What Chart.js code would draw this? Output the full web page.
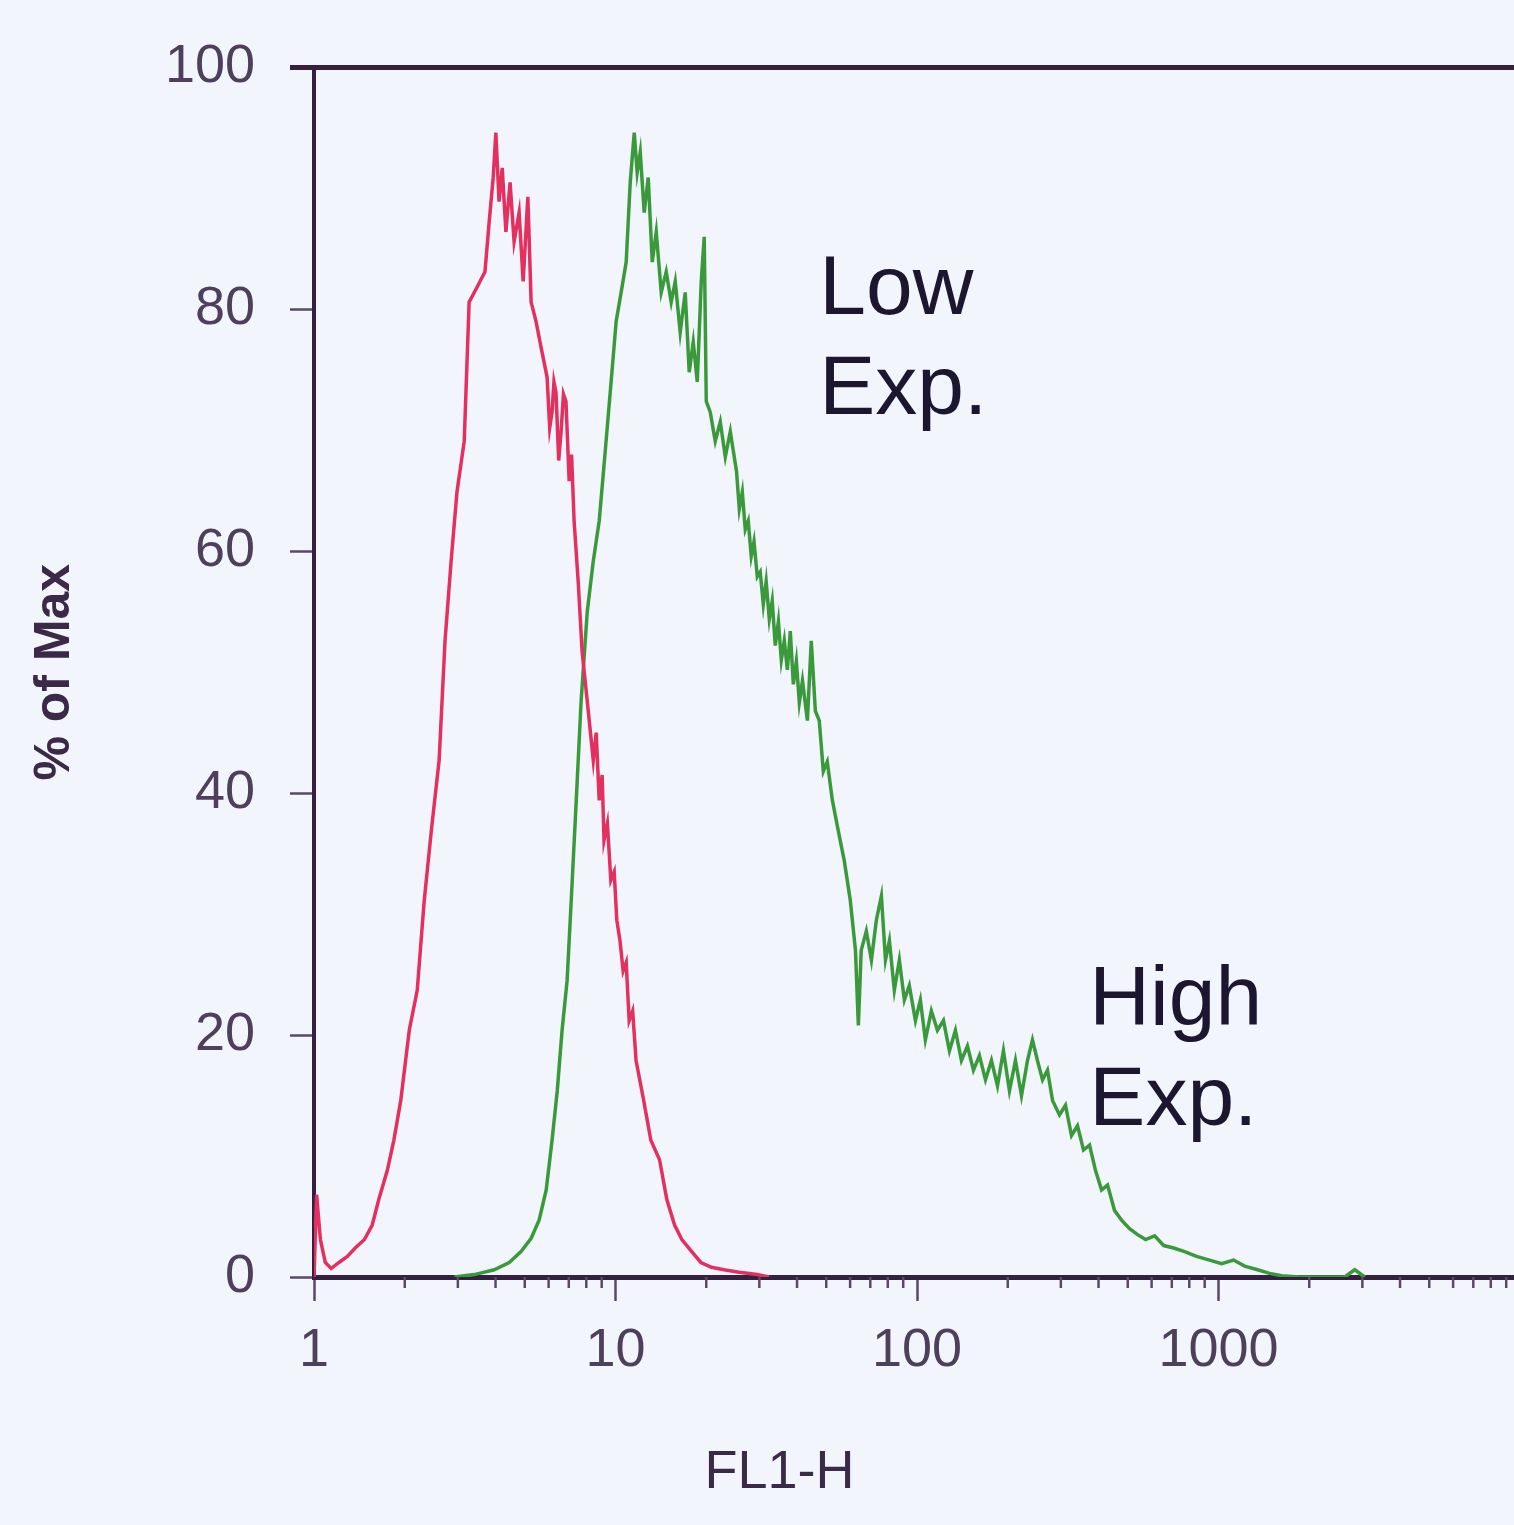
<!DOCTYPE html>
<html>
<head>
<meta charset="utf-8">
<title>FL1-H histogram</title>
<script src="https://cdn.jsdelivr.net/npm/chart.js@4/dist/chart.umd.min.js"></script>
<style>
  html, body { margin: 0; padding: 0; background: #f2f6fc; overflow: hidden; }
  #wrap { width: 1540px; height: 1525px; }
</style>
</head>
<body>
<div id="wrap"><canvas id="hist" width="1540" height="1525"></canvas></div>
<script>
// Low-expression population (FL1-H channel value, % of max)
const lowX = [1.0,1.02,1.05,1.09,1.14,1.21,1.29,1.37,1.47,1.56,1.64,1.75,1.84,1.94,2.07,2.20,2.32,2.45,2.60,2.72,2.85,2.98,3.15,3.27,3.47,3.69,3.81,3.93,4.01,4.11,4.21,4.33,4.47,4.61,4.79,4.94,5.12,5.25,5.45,5.66,5.93,6.05,6.16,6.25,6.35,6.48,6.60,6.72,6.85,7.02,7.15,7.29,7.52,7.75,8.06,8.44,8.63,8.83,9.03,9.16,9.40,9.65,9.9,10.1,10.35,10.6,10.85,11.1,11.4,11.7,12.4,13.1,14.0,14.8,15.7,16.6,17.9,19.2,20.8,22.9,25.7,29.5,32.3];
const lowY = [0,6.8,3.1,1.2,0.7,1.2,1.7,2.4,3.1,4.3,6.4,8.8,11.3,14.6,20.4,23.7,31.1,36.9,42.7,52.6,59.2,64.9,69.1,80.6,81.8,83.1,87.2,90.9,94.6,88.9,91.7,86.4,90.5,85.6,88.0,82.3,89.3,80.6,79.0,76.9,74.4,70.2,71.5,74.0,73.1,67.5,69.9,73.0,72.4,65.8,68.0,62.5,57.5,51.7,47.6,42.7,45.0,39.4,41.5,36.1,37.5,32.8,33.5,29.5,27.8,25.3,26.0,21.2,22.0,17.9,14.6,11.3,9.7,6.4,4.3,3.1,2.1,1.2,0.8,0.6,0.4,0.2,0];

// High-expression population
const highX = [2.92,3.40,3.96,4.44,4.86,5.25,5.58,5.89,6.16,6.41,6.65,6.91,7.13,7.41,7.69,8.06,8.44,8.83,9.24,9.67,10.05,10.44,10.85,11.19,11.54,11.80,12.08,12.45,12.84,13.24,13.65,14.18,14.73,15.30,15.78,16.39,17.03,17.56,18.11,18.67,19.25,19.69,20.00,20.62,21.42,22.26,23.13,24.03,25.2,25.74,26.34,26.94,27.56,28.20,28.8,29.53,30.2,30.92,31.6,32.37,33.1,33.88,34.7,35.48,36.3,37.15,38.0,38.89,39.8,40.71,41.7,43.3,44.6,46.0,47.4,48.9,50.4,52.4,54.8,57.4,60.1,62.5,63.9,65.3,67.9,70.6,73.3,76.2,78.6,81.0,84.1,87.4,90.8,94.3,98.8,102.6,106.6,111.6,116.9,122.4,128.1,134.1,140.4,147.0,153.9,161.1,168.7,176.6,184.9,193.5,202.6,212.1,222.1,232.5,241.5,250.9,260.8,270.9,281.5,296.9,310.8,325.4,340.7,356.7,373.5,391.0,409.4,428.6,452,477,507,539,573,614,658,710,772,846,934,1024,1122,1221,1348,1478,1619,1858,2621,2830,3055];
const highY = [0,0.2,0.6,1.2,2.1,3.2,4.7,7.2,11.3,15.4,20.4,24.5,31.1,39.4,47.6,55.0,59.2,62.5,68.2,74.0,79.0,81.4,83.9,90.5,94.6,91.3,93.0,88.0,90.9,83.9,86.4,81.4,83.1,80.6,82.3,78.1,81.4,74.8,77.3,74.0,82.3,86.0,72.4,71.5,69.1,70.7,67.8,69.9,66.6,63.5,64.9,61.8,62.5,59.6,60.8,57.9,58.3,55.6,57.5,54.4,55.9,52.2,54.2,51.0,52.6,50.2,53.4,49.0,50.9,47.5,49.3,46.0,52.6,46.8,46.0,41.8,42.6,39.4,36.9,34.4,31.1,27.0,20.8,27.0,28.6,26.2,29.5,31.5,26.2,27.8,23.7,26.2,22.9,24.1,21.2,22.9,19.6,22.0,20.4,21.2,18.7,20.4,17.9,19.1,17.1,18.3,16.3,17.9,15.8,18.7,15.4,17.9,15.0,17.9,19.6,17.9,16.3,17.1,14.6,13.4,14.2,11.7,12.5,10.5,10.9,8.8,7.2,7.6,5.5,4.7,4.0,3.5,3.1,3.4,2.6,2.4,2.1,1.7,1.4,1.1,1.4,0.9,0.6,0.3,0.1,0,0,0.6,0];

// Axis ticks
const xTickValues = [1, 10, 100, 1000, 10000];
const xTickLabels = ['1', '10', '100', '1000', ''];
const xMinorSteps = [2, 3, 4, 5, 6, 7, 8, 9];
const yTickValues = [0, 20, 40, 60, 80, 100];

// Text annotations: lines, FL1-H position, % of max at the first baseline
const annLow = { lines: ['Low', 'Exp.'], x: 47.4, y: 79.6 };
const annHigh = { lines: ['High', 'Exp.'], x: 373, y: 20.8 };
const xTitle = 'FL1-H';

const AXIS = '#36203f';
const TICKTXT = '#4e3f5c';
const FONT = '"Liberation Sans", Arial, sans-serif';

const toPoints = (xs, ys) => xs.map((x, i) => ({ x: x, y: ys[i] }));

const framePlugin = {
  id: 'frame',
  afterDraw(chart) {
    const { ctx, chartArea } = chart;
    const xs = chart.scales.x;
    const ys = chart.scales.y;
    ctx.save();
    // top frame line
    ctx.strokeStyle = AXIS;
    ctx.lineWidth = 5;
    ctx.beginPath();
    ctx.moveTo(chartArea.left - 24, chartArea.top);
    ctx.lineTo(chartArea.right + 20, chartArea.top);
    ctx.stroke();
    // minor log ticks below the x axis
    ctx.lineWidth = 2.5;
    ctx.strokeStyle = '#5a4868';
    for (let d = 0; d < xTickValues.length - 1; d++) {
      xMinorSteps.forEach(k => {
        const px = xs.getPixelForValue(k * xTickValues[d]);
        ctx.beginPath();
        ctx.moveTo(px, chartArea.bottom);
        ctx.lineTo(px, chartArea.bottom + 11);
        ctx.stroke();
      });
    }
    // x axis title, set left of the plot centre
    ctx.fillStyle = '#3a2a48';
    ctx.font = '54px ' + FONT;
    ctx.textAlign = 'center';
    ctx.textBaseline = 'middle';
    ctx.fillText(xTitle, xs.getPixelForValue(35), chartArea.bottom + 196);
    // annotations
    ctx.fillStyle = '#1d1631';
    ctx.font = '84px ' + FONT;
    ctx.textAlign = 'left';
    ctx.textBaseline = 'alphabetic';
    [annLow, annHigh].forEach(a => {
      const px = xs.getPixelForValue(a.x);
      const py = ys.getPixelForValue(a.y);
      a.lines.forEach((t, i) => ctx.fillText(t, px, py + i * 100));
    });
    ctx.restore();
  }
};

new Chart(document.getElementById('hist'), {
  type: 'line',
  data: {
    datasets: [
      {
        label: 'Low Exp.',
        data: toPoints(lowX, lowY),
        borderColor: '#e3305e',
        borderWidth: 3.5,
        pointRadius: 0,
        tension: 0,
        fill: false
      },
      {
        label: 'High Exp.',
        data: toPoints(highX, highY),
        borderColor: '#3a9a3b',
        borderWidth: 3.5,
        pointRadius: 0,
        tension: 0,
        fill: false
      }
    ]
  },
  options: {
    responsive: false,
    animation: false,
    events: [],
    layout: { padding: { top: 64, right: 20, left: 0, bottom: 0 } },
    plugins: { legend: { display: false }, tooltip: { enabled: false } },
    scales: {
      x: {
        type: 'logarithmic',
        min: 1,
        max: 10000,
        afterFit(scale) { scale.height = 248; },
        afterBuildTicks(scale) { scale.ticks = xTickValues.map(v => ({ value: v })); },
        border: { display: true, color: AXIS, width: 5 },
        grid: { display: true, drawOnChartArea: false, drawTicks: true, tickLength: 24, tickColor: '#5a4868', tickWidth: 2.5 },
        ticks: {
          autoSkip: false,
          maxRotation: 0,
          padding: 18,
          color: TICKTXT,
          font: { family: FONT, size: 54 },
          callback: (v) => xTickLabels[xTickValues.indexOf(v)] ?? ''
        },
        title: { display: false }
      },
      y: {
        type: 'linear',
        min: 0,
        max: 100,
        afterFit(scale) { scale.width = 314; },
        afterBuildTicks(scale) { scale.ticks = yTickValues.map(v => ({ value: v })); },
        border: { display: true, color: AXIS, width: 4 },
        grid: { display: true, drawOnChartArea: false, drawTicks: true, tickLength: 24, tickColor: '#5a4868', tickWidth: 2.5 },
        ticks: {
          padding: 35,
          color: TICKTXT,
          font: { family: FONT, size: 54 }
        },
        title: {
          display: true,
          text: '% of Max',
          color: '#3a2a48',
          font: { family: FONT, size: 50, weight: 'bold' },
          padding: { top: 25, bottom: 0 }
        }
      }
    }
  },
  plugins: [framePlugin]
});
</script>
</body>
</html>
